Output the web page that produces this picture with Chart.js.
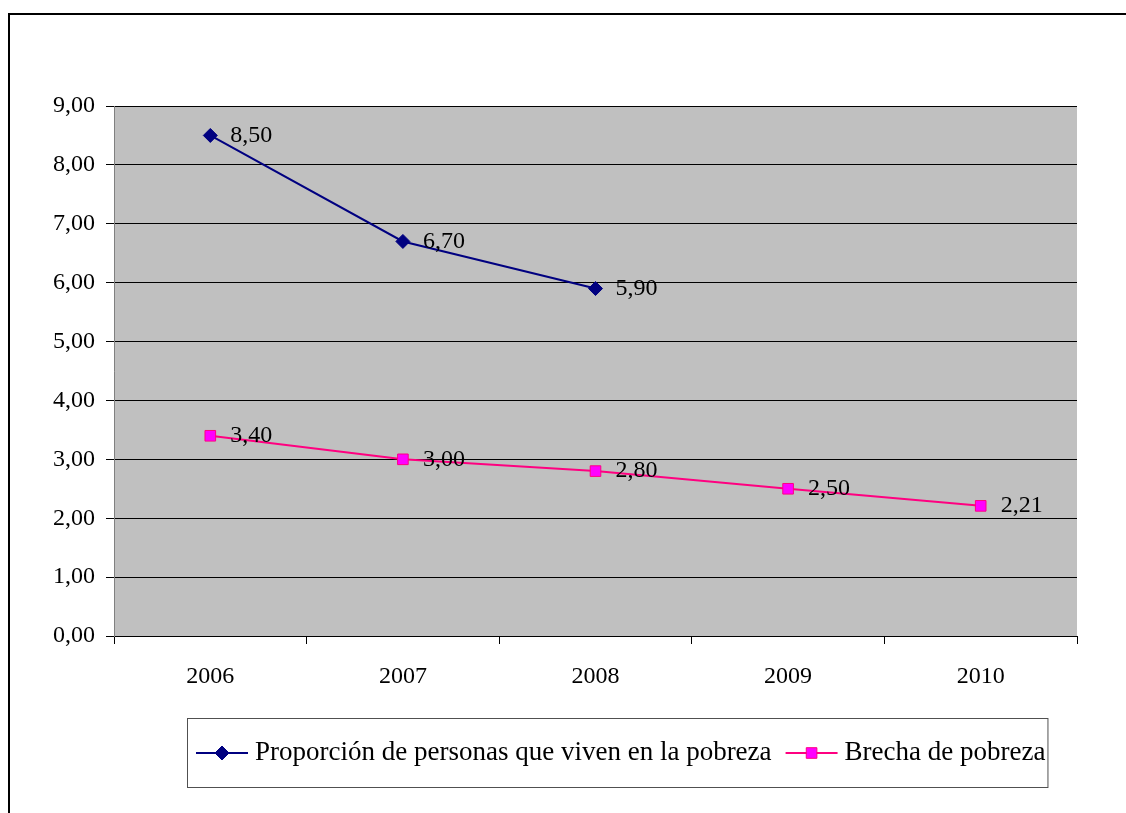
<!DOCTYPE html>
<html><head><meta charset="utf-8">
<style>html,body{margin:0;padding:0;background:#fff;overflow:hidden;} #wrap{width:1126px;height:813px;position:relative;}</style>
<script src="https://cdn.jsdelivr.net/npm/chart.js@4"></script>
</head><body><div id="wrap"><canvas id="c" width="1126" height="813"></canvas></div>
<script>
const years = ['2006', '2007', '2008', '2009', '2010'];
const proporcion = [8.50, 6.70, 5.90, null, null];
const brecha = [3.40, 3.00, 2.80, 2.50, 2.21];
const yTicks = [0, 1, 2, 3, 4, 5, 6, 7, 8, 9];
const seriesNames = ['Proporción de personas que viven en la pobreza', 'Brecha de pobreza'];

const FONT = '"Liberation Serif", "Times New Roman", "DejaVu Serif", serif';
const fmt = v => Number(v).toFixed(2).replace('.', ',');

const framePlugin = {
  id: 'frame',
  beforeDraw(chart) {
    const ctx = chart.ctx, a = chart.chartArea;
    ctx.save();
    ctx.fillStyle = '#fff';
    ctx.fillRect(0, 0, chart.width, chart.height);
    ctx.fillStyle = '#C0C0C0';
    ctx.fillRect(a.left, a.top, a.right - a.left, a.bottom - a.top);
    ctx.strokeStyle = '#000';
    ctx.lineWidth = 2;
    ctx.beginPath();
    ctx.moveTo(9, 813);
    ctx.lineTo(9, 14);
    ctx.lineTo(1126, 14);
    ctx.stroke();
    ctx.restore();
  },
  afterDatasetsDraw(chart) {
    const ctx = chart.ctx;
    ctx.save();
    ctx.font = '24px ' + FONT;
    ctx.fillStyle = '#000';
    ctx.textAlign = 'left';
    ctx.textBaseline = 'middle';
    chart.data.datasets.forEach((ds, i) => {
      const meta = chart.getDatasetMeta(i);
      meta.data.forEach((pt, j) => {
        const v = ds.data[j];
        if (v === null || v === undefined) return;
        ctx.fillText(fmt(v), pt.x + 20, pt.y);
      });
    });
    // legend
    ctx.font = '27px ' + FONT;
    const boxL = 187, boxT = 718, boxH = 69, cy = 753;
    let x = boxL + 9;
    const items = chart.data.datasets;
    const ends = [];
    items.forEach((ds, i) => {
      ctx.strokeStyle = ds.borderColor;
      ctx.lineWidth = 2;
      ctx.beginPath();
      ctx.moveTo(x, cy); ctx.lineTo(x + 52, cy); ctx.stroke();
      ctx.fillStyle = ds.pointBackgroundColor;
      ctx.strokeStyle = ds.pointBorderColor;
      ctx.lineWidth = 1;
      Chart.helpers.drawPoint(ctx, {pointStyle: ds.pointStyle, radius: ds.pointRadius, rotation: 0, borderWidth: 1}, x + 26, cy);
      ctx.fillStyle = '#000';
      ctx.fillText(ds.label, x + 59, cy);
      const w = ctx.measureText(ds.label).width;
      x = x + 59 + w + 14;
      ends.push(x - 14);
    });
    const boxR = ends[ends.length - 1] + 2;
    ctx.strokeStyle = '#505050';
    ctx.lineWidth = 1;
    ctx.strokeRect(boxL + 0.5, boxT + 0.5, boxR - boxL, boxH);
    ctx.restore();
  }
};

new Chart(document.getElementById('c'), {
  type: 'line',
  data: {
    labels: years,
    datasets: [
      {
        label: seriesNames[0],
        data: proporcion,
        borderColor: '#000080',
        backgroundColor: '#000080',
        pointBackgroundColor: '#000080',
        pointBorderColor: '#000080',
        pointStyle: 'rectRot',
        pointRadius: 7,
        pointBorderWidth: 1,
        borderWidth: 2,
        spanGaps: false,
        tension: 0
      },
      {
        label: seriesNames[1],
        data: brecha,
        borderColor: '#FF0080',
        backgroundColor: '#FF00FF',
        pointBackgroundColor: '#FF00FF',
        pointBorderColor: '#FF0080',
        pointStyle: 'rect',
        pointRadius: 7.5,
        pointBorderWidth: 1,
        borderWidth: 2,
        tension: 0
      }
    ]
  },
  options: {
    responsive: false,
    animation: false,
    devicePixelRatio: 1,
    layout: { padding: { top: 106, right: 49, left: 0, bottom: 0 } },
    plugins: { legend: { display: false }, tooltip: { enabled: false } },
    scales: {
      x: {
        offset: true,
        afterFit: s => { s.height = 813 - 636; },
        grid: { offset: true, drawOnChartArea: false, drawTicks: true, tickLength: 8, color: '#000', lineWidth: 1 },
        border: { display: true, color: '#000', width: 1 },
        ticks: { color: '#000', padding: 18, font: { family: FONT, size: 24 }, maxRotation: 0, autoSkip: false }
      },
      y: {
        min: 0, max: 9,
        afterFit: s => { s.width = 114; },
        afterBuildTicks: s => { s.ticks = yTicks.map(v => ({ value: v })); },
        grid: { color: '#000', lineWidth: 1, tickLength: 8, drawTicks: true },
        border: { display: true, color: '#808080', width: 1 },
        ticks: { color: '#000', padding: 11, font: { family: FONT, size: 24 }, callback: v => fmt(v) }
      }
    }
  },
  plugins: [framePlugin]
});
</script>
</body></html>
